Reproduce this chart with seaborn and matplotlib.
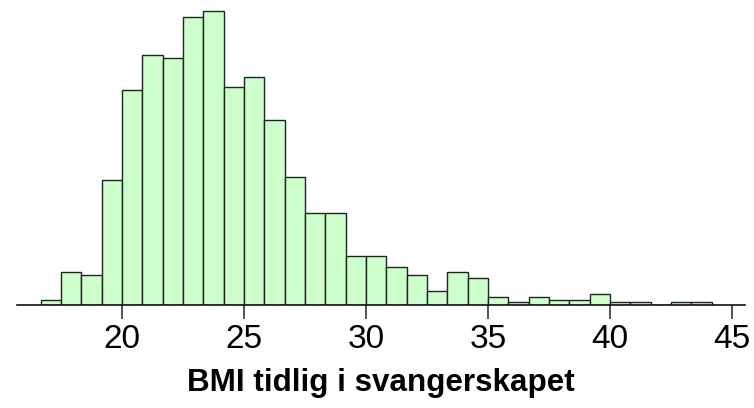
import numpy as np
import pandas as pd
import matplotlib
matplotlib.use("Agg")
import matplotlib.pyplot as plt
import seaborn as sns

# histogram bins: width 5/6, starting at 16 2/3
bin_start = 50 / 3
bin_width = 5 / 6
counts = [2, 12, 11, 46, 79, 92, 91, 106, 108, 80, 84,
          68, 47, 34, 34, 18, 18, 14, 11, 5, 12, 10,
          3, 1, 3, 2, 2, 4, 1, 1, 0, 1, 1]
x_ticks = [20, 25, 30, 35, 40, 45]
x_label = "BMI tidlig i svangerskapet"

edges = bin_start + bin_width * np.arange(len(counts) + 1)
df = pd.DataFrame({"bmi": (edges[:-1] + edges[1:]) / 2, "n": counts})

sns.set_style("white")
plt.rcParams["font.family"] = ["Liberation Sans", "DejaVu Sans"]

fig = plt.figure(figsize=(7.54, 4.08), dpi=100)
ax = fig.add_axes([17 / 754, 103 / 408, 728 / 754, 297 / 408])

sns.histplot(data=df, x="bmi", weights="n", bins=edges.tolist(), ax=ax,
             color="#ccffcc", alpha=1, edgecolor="#222222", linewidth=1.0)

ax.set_xlim(15.70, 45.53)
ax.set_ylim(0, 109.2)
ax.set_xticks(x_ticks)
ax.tick_params(axis="x", direction="out", length=10, width=1.2, color="#333333",
               labelsize=24, labelcolor="black", pad=4, bottom=True)
ax.set_yticks([])
ax.set_ylabel("")
ax.set_xlabel(x_label, fontsize=22.6, fontweight="bold", color="black", labelpad=9)
for side in ["left", "right", "top"]:
    ax.spines[side].set_visible(False)
ax.spines["bottom"].set_color("#111111")
ax.spines["bottom"].set_linewidth(1.2)

fig.savefig("out.png", dpi=100)
plt.close(fig)
